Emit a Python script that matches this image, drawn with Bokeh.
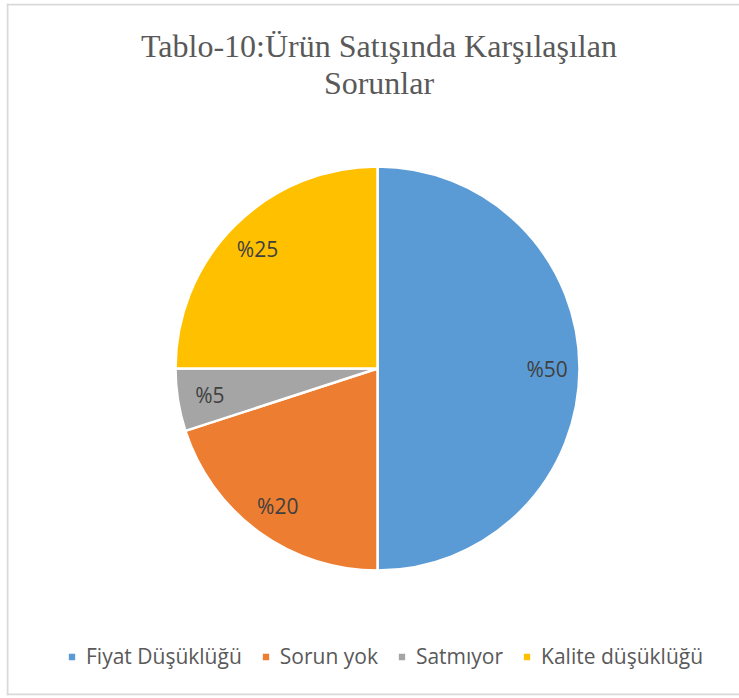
import numpy as np
from bokeh.plotting import figure
from bokeh.models import Range1d, Legend, LegendItem, ColumnDataSource, Span
from bokeh.core.properties import value
from bokeh.embed import file_html
from bokeh.resources import INLINE

title_lines = ["Tablo-10:Ürün Satışında Karşılaşılan", "Sorunlar"]
categories = ["Fiyat Düşüklüğü", "Sorun yok", "Satmıyor", "Kalite düşüklüğü"]
values = [50, 20, 5, 25]
labels = ["%50", "%20", "%5", "%25"]
colors = ["#5B9BD5", "#ED7D31", "#A5A5A5", "#FFC000"]

W, H = 739, 698
BL, BT, BB = 6, 3, 3
cx, cy, R = 377, 330, 202

vals = np.array(values, dtype=float)
frac = vals / vals.sum()
cum_end = np.cumsum(frac)
cum_start = cum_end - frac
# clockwise from 12 o'clock
start_angle = np.pi / 2 - cum_end * 2 * np.pi
end_angle = np.pi / 2 - cum_start * 2 * np.pi
mid = (start_angle + end_angle) / 2
lx = cx + 0.84 * R * np.cos(mid)
ly = cy + 0.84 * R * np.sin(mid)

src = ColumnDataSource(dict(lx=lx, ly=ly, lab=labels))

p = figure(width=W, height=H, output_backend="svg", toolbar_location=None,
           x_range=Range1d(BL, W), y_range=Range1d(BB, H - BT),
           min_border_left=BL, min_border_right=0, min_border_top=BT, min_border_bottom=BB)
p.axis.visible = False
p.grid.visible = False
p.outline_line_color = None
p.background_fill_color = "white"
p.border_fill_color = "white"

for loc, dim in [(BL + 1, "height"), (H - BT - 1, "width"), (BB + 1, "width")]:
    p.add_layout(Span(location=loc, dimension=dim, line_color="#d9d9d9", line_width=2))

items = []
for i in range(len(categories)):
    r = p.wedge(x=cx, y=cy, radius=R, start_angle=start_angle[i], end_angle=end_angle[i],
                fill_color=colors[i], line_color="white", line_width=2.5)
    items.append(LegendItem(label=categories[i], renderers=[r]))

p.text(x="lx", y="ly", text="lab", source=src, text_align="center", text_baseline="middle",
       text_font=value("Open Sans"), text_font_size="21px", text_color="#404040")

p.text(x=[378.5, 378.5], y=[653, 616], text=title_lines, text_align="center",
       text_baseline="middle", text_font=value("Liberation Serif"), text_font_size="32px",
       text_color="#595959")

legend = Legend(items=items, orientation="horizontal", location=(60, 25),
                glyph_width=11, glyph_height=11, label_standoff=9, spacing=18,
                padding=0, margin=0, border_line_color=None, background_fill_alpha=0,
                label_text_font="Open Sans", label_text_font_size="21px",
                label_text_color="#595959", label_height=20)
p.add_layout(legend, "center")

open("out.html", "w").write(file_html(p, INLINE))
